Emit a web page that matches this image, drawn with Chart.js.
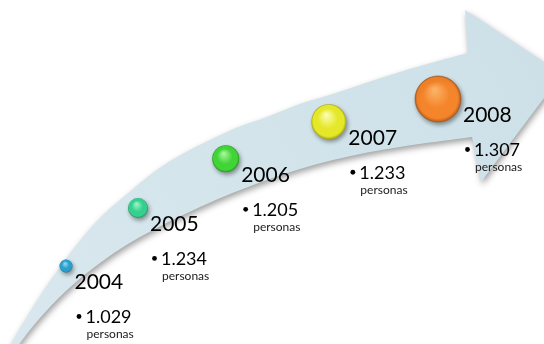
<!DOCTYPE html>
<html>
<head>
<meta charset="utf-8">
<script src="https://cdn.jsdelivr.net/npm/chart.js@4/dist/chart.umd.min.js"></script>
<style>
  html, body { margin: 0; padding: 0; background: #ffffff; }
  #wrap { width: 544px; height: 344px; position: relative; }
</style>
</head>
<body>
<div id="wrap"><canvas id="c"></canvas></div>
<script>
// Yearly totals
const years = ['2004', '2005', '2006', '2007', '2008'];
const personas = [1029, 1234, 1205, 1233, 1307];
const unitLabel = 'personas';

// Sphere styling, one per year
const sphereColors = [
  { light: '#8edaf2', base: '#2b9fcb', dark: '#17648a' },
  { light: '#9af3c8', base: '#33d08e', dark: '#1c8f5e' },
  { light: '#a6f79a', base: '#41d436', dark: '#23951d' },
  { light: '#fbfcae', base: '#e5e828', dark: '#a5a60e' },
  { light: '#fbb266', base: '#f4852b', dark: '#c0601c' }
];
const sphereRadius = [6.5, 10, 13.5, 17.5, 23];

// Layout frame: x 0..544, y 0..344 (top to bottom)
// Rail the spheres ride on (cubic Bezier) and where each sphere sits on it
const rail = [[66, 266], [176, 161.5], [308, 118.5], [438, 99]];
const railStops = [0, 0.21, 0.45, 0.72, 1];

// Arrow outline
const arrowUpper = [[0, 366], [13, 340], [33, 307], [50, 281], [66, 259], [82, 238], [100, 218],
  [120, 200], [167, 163], [227, 132], [267, 117], [300, 104], [333, 94], [400, 72], [468, 53]];
const arrowHead = [[465, 10], [562, 74], [481, 182], [472, 137]];
const arrowLower = [[472, 137], [400, 147], [333, 160], [267, 180], [200, 207], [140, 237],
  [100, 263], [67, 290], [40, 318], [18, 346], [8, 366]];

function railPoint(t) {
  const [a, b, c, d] = rail, u = 1 - t;
  const k0 = u * u * u, k1 = 3 * u * u * t, k2 = 3 * u * t * t, k3 = t * t * t;
  return { x: k0 * a[0] + k1 * b[0] + k2 * c[0] + k3 * d[0],
           y: k0 * a[1] + k1 * b[1] + k2 * c[1] + k3 * d[1] };
}

function fmtThousands(v) {
  const s = String(v);
  return s.length > 3 ? s.slice(0, s.length - 3) + '.' + s.slice(-3) : s;
}

function smoothThrough(ctx, pts, toPx, moveFirst) {
  const P = pts.map(toPx);
  if (moveFirst) ctx.moveTo(P[0][0], P[0][1]); else ctx.lineTo(P[0][0], P[0][1]);
  for (let i = 0; i < P.length - 1; i++) {
    const p0 = P[i - 1] || P[i], p1 = P[i], p2 = P[i + 1], p3 = P[i + 2] || P[i + 1];
    ctx.bezierCurveTo(
      p1[0] + (p2[0] - p0[0]) / 6, p1[1] + (p2[1] - p0[1]) / 6,
      p2[0] - (p3[0] - p1[0]) / 6, p2[1] - (p3[1] - p1[1]) / 6,
      p2[0], p2[1]);
  }
}

const arrowPlugin = {
  id: 'arrowBand',
  beforeDatasetsDraw(chart) {
    const { ctx, scales: { x, y } } = chart;
    const toPx = p => [x.getPixelForValue(p[0]), y.getPixelForValue(p[1])];
    ctx.save();
    ctx.beginPath();
    smoothThrough(ctx, arrowUpper, toPx, true);
    arrowHead.forEach(p => { const q = toPx(p); ctx.lineTo(q[0], q[1]); });
    smoothThrough(ctx, arrowLower, toPx, false);
    ctx.closePath();
    const g0 = toPx([0, 344]), g1 = toPx([544, 40]);
    const grad = ctx.createLinearGradient(g0[0], g0[1], g1[0], g1[1]);
    grad.addColorStop(0, '#d9e8ee');
    grad.addColorStop(1, '#cde0e8');
    ctx.fillStyle = grad;
    ctx.shadowColor = 'rgba(0,0,0,0.38)';
    ctx.shadowBlur = 6;
    ctx.shadowOffsetX = 1.5;
    ctx.shadowOffsetY = 3;
    ctx.fill();
    ctx.restore();
  }
};

const sphereShadow = {
  id: 'sphereShadow',
  beforeDatasetDraw(chart) {
    const ctx = chart.ctx;
    ctx.save();
    ctx.shadowColor = 'rgba(0,0,0,0.4)';
    ctx.shadowBlur = 4;
    ctx.shadowOffsetX = 1.5;
    ctx.shadowOffsetY = 2.5;
  },
  afterDatasetDraw(chart) {
    chart.ctx.restore();
  }
};

const labelPlugin = {
  id: 'yearLabels',
  afterDatasetsDraw(chart) {
    const ctx = chart.ctx;
    const meta = chart.getDatasetMeta(0);
    ctx.save();
    ctx.textBaseline = 'alphabetic';
    ctx.textAlign = 'left';
    meta.data.forEach((el, i) => {
      const r = el.options.radius;
      const X = el.x + r + 2, B = el.y + 23;
      ctx.fillStyle = '#000000';
      ctx.font = '21px Lato';
      ctx.fillText(years[i], X, B);
      const nx = X + 11, nb = B + 34;
      ctx.beginPath();
      ctx.arc(nx - 6.5, nb - 6.5, 2.4, 0, Math.PI * 2);
      ctx.fill();
      ctx.font = '18px Lato';
      ctx.fillText(fmtThousands(personas[i]), nx, nb);
      ctx.fillStyle = '#1a1a1a';
      ctx.font = '12px Lato';
      ctx.fillText(unitLabel, nx + 1, nb + 15);
    });
    ctx.restore();
  }
};

const points = years.map((yr, i) => railPoint(railStops[i]));

new Chart(document.getElementById('c'), {
  type: 'bubble',
  data: {
    datasets: [{
      label: unitLabel,
      data: points,
      clip: false,
      radius: ctx => sphereRadius[ctx.dataIndex],
      borderWidth: ctx => (ctx.dataIndex === 4 ? 1 : 0),
      borderColor: 'rgba(150,80,25,0.55)',
      backgroundColor: ctx => {
        const c = sphereColors[ctx.dataIndex] || sphereColors[0];
        const chart = ctx.chart, sx = chart.scales.x, sy = chart.scales.y;
        if (ctx.type !== 'data' || !sx || !sy || !ctx.raw) return c.base;
        const px = sx.getPixelForValue(ctx.raw.x), py = sy.getPixelForValue(ctx.raw.y);
        if (!isFinite(px) || !isFinite(py)) return c.base;
        const r = sphereRadius[ctx.dataIndex];
        const g = chart.ctx.createRadialGradient(px - r * 0.15, py - r * 0.4, r * 0.05, px, py, r);
        g.addColorStop(0, c.light);
        g.addColorStop(0.55, c.base);
        g.addColorStop(0.88, c.base);
        g.addColorStop(1, c.dark);
        return g;
      }
    }]
  },
  options: {
    responsive: true,
    maintainAspectRatio: false,
    animation: false,
    events: [],
    layout: { padding: 0, autoPadding: false },
    plugins: { legend: { display: false }, tooltip: { enabled: false } },
    scales: {
      x: { type: 'linear', min: 0, max: 544, display: false },
      y: { type: 'linear', min: 0, max: 344, reverse: true, display: false }
    }
  },
  plugins: [arrowPlugin, sphereShadow, labelPlugin]
});
</script>
</body>
</html>
